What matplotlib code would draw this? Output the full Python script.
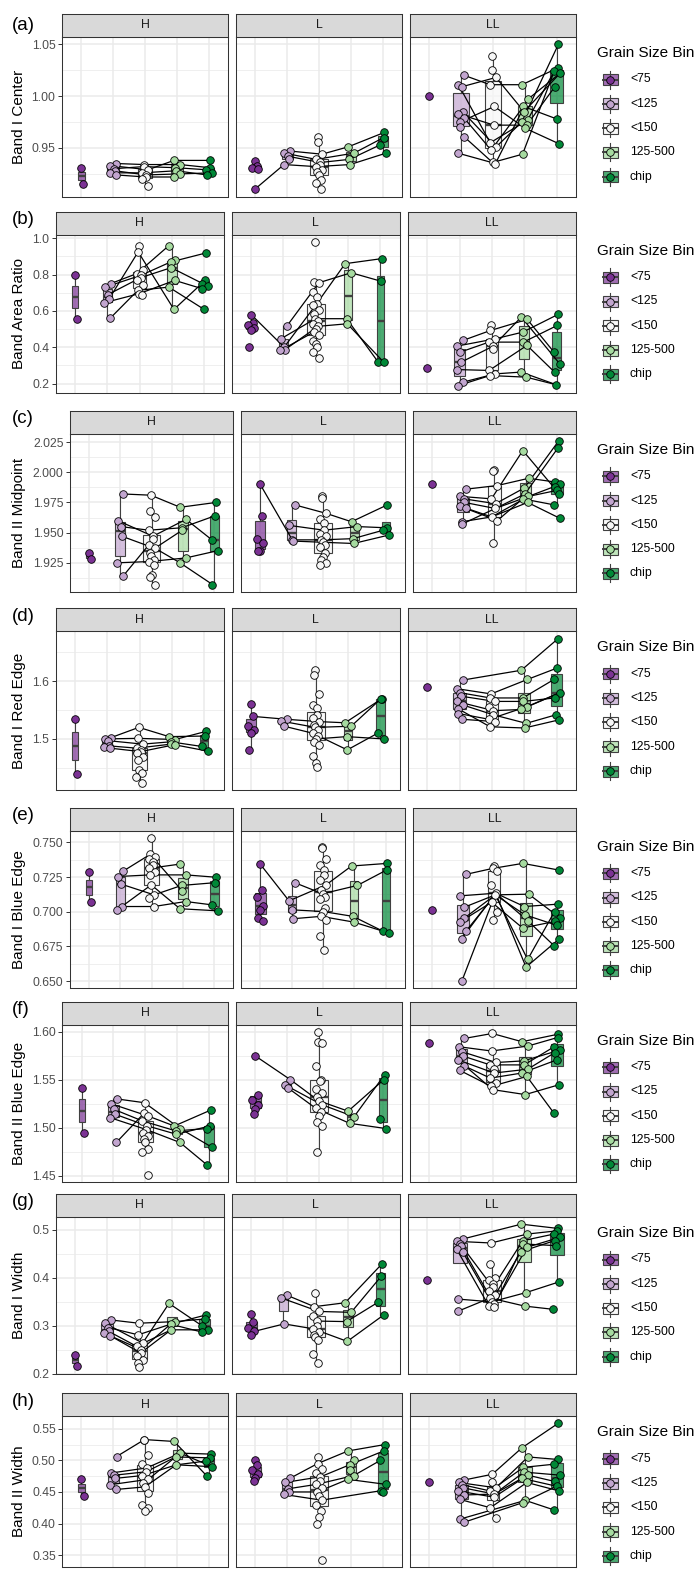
import numpy as np
import matplotlib
matplotlib.use("Agg")
import matplotlib.pyplot as plt
from matplotlib.colors import to_rgba
from matplotlib.patches import Rectangle
from matplotlib.ticker import FixedLocator

plt.rcParams["font.family"] = ["Liberation Sans", "DejaVu Sans"]

W, H = 700, 1570

BINS = ["<75", "<125", "<150", "125-500", "chip"]
FACETS = ["H", "L", "LL"]
FILLS = ["#7B3294", "#C2A5CF", "#F7F7F7", "#A6DBA0", "#008837"]

# per facet: (values in each grain size bin, samples as indices into those bins)
BAND_I_CENTER = {
    "H": ([[0.931, 0.915],
           [0.935, 0.933, 0.930, 0.928, 0.926, 0.924],
           [0.934, 0.932, 0.929, 0.926, 0.924, 0.922, 0.920, 0.913],
           [0.938, 0.934, 0.931, 0.928, 0.925, 0.922],
           [0.938, 0.931, 0.929, 0.926, 0.924]],
          [(None, 0, 0, 1, 1), (None, 1, 2, 0, 0), (None, 2, 1, 2, 2),
           (None, 3, 4, 4, 3), (None, 4, 3, 3, 4), (None, 5, 5, 5, None)]),
    "L": ([[0.937, 0.933, 0.931, 0.930, 0.910],
           [0.947, 0.945, 0.942, 0.939, 0.934],
           [0.961, 0.956, 0.944, 0.939, 0.936, 0.934, 0.932, 0.929, 0.927,
            0.924, 0.919, 0.916, 0.910],
           [0.951, 0.945, 0.939, 0.934],
           [0.965, 0.960, 0.953, 0.945]],
          [(4, 4, 6, 3, 3), (None, 0, 2, 0, 0), (None, 1, 3, 1, 1),
           (None, 2, 4, 2, 2)]),
    "LL": ([[1.000],
            [1.020, 1.011, 1.009, 0.985, 0.983, 0.979, 0.975, 0.970, 0.961, 0.945],
            [1.039, 1.025, 1.018, 1.011, 0.990, 0.972, 0.955, 0.951, 0.948,
             0.936, 0.935],
            [1.011, 0.997, 0.990, 0.985, 0.977, 0.975, 0.972, 0.969, 0.944],
            [1.050, 1.027, 1.024, 1.022, 1.009, 0.978, 0.954]],
           [(None, 0, 3, 0, 1), (None, 1, 6, 4, 2), (None, 2, 2, 3, 3),
            (None, 3, 7, 5, 0), (None, 4, 5, 6, 4), (None, 5, 8, 2, 5),
            (None, 6, 4, 7, 6), (None, 8, 9, 8, 2), (None, 9, 10, 1, 3)]),
}

BAND_AREA_RATIO = {
    "H": ([[0.80, 0.555],
           [0.75, 0.73, 0.69, 0.665, 0.645, 0.56],
           [0.96, 0.925, 0.823, 0.805, 0.796, 0.783, 0.768, 0.74, 0.713, 0.695, 0.69],
           [0.96, 0.882, 0.869, 0.838, 0.768, 0.731, 0.608],
           [0.919, 0.772, 0.75, 0.737, 0.722, 0.608]],
          [(None, 3, 1, 6, 2), (None, 0, 3, 0, None), (None, 1, 4, 2, 0),
           (None, 2, 5, 3, 3), (None, 4, 9, 4, 4), (None, 5, 8, 5, 5)]),
    "L": ([[0.58, 0.535, 0.52, 0.505, 0.495, 0.40],
           [0.515, 0.446, 0.40, 0.387, 0.382],
           [0.98, 0.759, 0.755, 0.704, 0.676, 0.64, 0.63, 0.603, 0.585, 0.557,
            0.542, 0.529, 0.515, 0.502, 0.483, 0.465, 0.432, 0.419, 0.40,
            0.373, 0.342],
           [0.86, 0.81, 0.557, 0.529],
           [0.888, 0.763, 0.321, 0.318]],
          [(0, 2, 5, 0, 0), (None, 0, 2, 1, 1), (None, 1, 9, 2, 2),
           (None, 3, 12, 3, 3), (None, 4, 14, None, None)]),
    "LL": ([[0.286],
            [0.437, 0.406, 0.373, 0.318, 0.277, 0.207, 0.189],
            [0.524, 0.492, 0.446, 0.428, 0.406, 0.391, 0.272, 0.253, 0.244],
            [0.566, 0.553, 0.483, 0.428, 0.41, 0.263, 0.235],
            [0.581, 0.52, 0.373, 0.308, 0.263, 0.193]],
           [(None, 0, 1, 1, 2), (None, 1, 2, 2, 0), (None, 2, 3, 3, 1),
            (None, 3, 4, 0, 3), (None, 4, 6, 4, 4), (None, 5, 7, 5, 5),
            (None, 6, 8, 6, 5)]),
}

BAND_II_MIDPOINT = {
    "H": ([[1.933, 1.928],
           [1.982, 1.960, 1.955, 1.947, 1.925, 1.914],
           [1.981, 1.968, 1.963, 1.952, 1.947, 1.945, 1.940, 1.937, 1.933,
            1.931, 1.927, 1.926, 1.923, 1.915, 1.913, 1.907],
           [1.971, 1.961, 1.954, 1.952, 1.929, 1.925],
           [1.975, 1.964, 1.944, 1.935, 1.907]],
          [(None, 0, 0, 0, 0), (None, 1, 4, 1, 2), (None, 2, 3, 2, 1),
           (None, 3, 7, 3, None), (None, 4, 11, 4, 3), (None, 5, 6, 5, 4)]),
    "L": ([[1.990, 1.964, 1.945, 1.941, 1.935, 1.935],
           [1.973, 1.956, 1.944, 1.943],
           [1.980, 1.979, 1.966, 1.961, 1.958, 1.952, 1.949, 1.947, 1.944,
            1.942, 1.940, 1.938, 1.933, 1.930, 1.927, 1.925, 1.923],
           [1.959, 1.955, 1.945, 1.941],
           [1.973, 1.954, 1.952, 1.948]],
          [(0, 2, 8, 2, 2), (None, 0, 2, 0, 0), (None, 1, 5, 1, 1),
           (None, 3, 9, 3, 3)]),
    "LL": ([[1.990],
            [1.986, 1.980, 1.978, 1.975, 1.972, 1.970, 1.959, 1.957],
            [2.002, 2.001, 1.989, 1.978, 1.974, 1.970, 1.963, 1.960, 1.941],
            [2.018, 1.995, 1.987, 1.982, 1.980, 1.978, 1.975],
            [2.026, 2.020, 1.992, 1.990, 1.988, 1.985, 1.982, 1.973, 1.962]],
           [(None, 0, 2, 1, 2), (None, 1, 3, 0, 6), (None, 2, 4, 2, 0),
            (None, 3, 5, 3, 1), (None, 4, 6, 4, 3), (None, 5, 7, 5, 7),
            (None, 6, 6, 6, 8), (None, 7, 5, 4, 5)]),
}

BAND_I_RED_EDGE = {
    "H": ([[1.535, 1.440],
           [1.502, 1.500, 1.497, 1.488, 1.486, 1.484],
           [1.520, 1.501, 1.491, 1.484, 1.481, 1.478, 1.475, 1.469, 1.463,
            1.446, 1.441, 1.434, 1.424],
           [1.504, 1.499, 1.495, 1.491, 1.490],
           [1.513, 1.505, 1.487, 1.479]],
          [(None, 0, 0, 0, 1), (None, 1, 1, 1, 0), (None, 2, 2, 2, 2),
           (None, 3, 3, 3, 3), (None, 5, 5, 4, None)]),
    "L": ([[1.560, 1.539, 1.522, 1.516, 1.510, 1.480],
           [1.534, 1.531, 1.522],
           [1.620, 1.610, 1.578, 1.559, 1.553, 1.542, 1.536, 1.530, 1.525,
            1.520, 1.515, 1.510, 1.505, 1.500, 1.495, 1.490, 1.470, 1.458, 1.452],
           [1.528, 1.522, 1.504, 1.481],
           [1.570, 1.570, 1.510, 1.500]],
          [(1, 0, 7, 0, 0), (None, 1, 9, 1, 1), (None, 2, 11, 3, 2),
           (None, None, 13, 2, 3)]),
    "LL": ([[1.590],
            [1.602, 1.587, 1.580, 1.574, 1.565, 1.559, 1.552, 1.544, 1.534],
            [1.578, 1.571, 1.565, 1.556, 1.549, 1.542, 1.534, 1.530, 1.521],
            [1.619, 1.603, 1.571, 1.565, 1.556, 1.551, 1.527, 1.519],
            [1.674, 1.623, 1.603, 1.580, 1.571, 1.542, 1.533]],
           [(None, 0, None, 0, 0), (None, 1, 0, 1, 1), (None, 2, 1, 2, 2),
            (None, 3, 2, 3, 4), (None, 4, 4, 5, 3), (None, 5, 5, 6, 5),
            (None, 6, 8, 7, 6), (None, 7, 6, 4, 3), (None, 8, 7, None, None)]),
}

BAND_I_BLUE_EDGE = {
    "H": ([[0.7285, 0.7067],
           [0.7294, 0.7254, 0.720, 0.7038, 0.7014],
           [0.7533, 0.7414, 0.7397, 0.738, 0.736, 0.7337, 0.7313, 0.7285,
            0.7266, 0.7194, 0.7122, 0.7098, 0.7038],
           [0.7344, 0.7266, 0.719, 0.715, 0.7074, 0.7022],
           [0.7249, 0.721, 0.705, 0.7007]],
          [(None, 0, 1, 3, None), (None, 1, 8, 1, 0), (None, 2, 10, 2, 1),
           (None, 3, 12, 4, 2), (None, 4, 9, 5, 3), (None, None, 6, 0, None)]),
    "L": ([[0.7344, 0.7158, 0.711, 0.7045, 0.7014, 0.6955, 0.693],
           [0.721, 0.7079, 0.7014, 0.695],
           [0.7469, 0.7457, 0.738, 0.7337, 0.7301, 0.7265, 0.7229, 0.7194,
            0.7158, 0.713, 0.711, 0.7092, 0.7026, 0.7002, 0.6967, 0.6943,
            0.6823, 0.6727],
           [0.733, 0.719, 0.6967, 0.6926],
           [0.7349, 0.7301, 0.6859, 0.6847]],
          [(0, 1, 7, 0, 0), (None, 0, 9, 1, 1), (None, 2, 13, 2, 2),
           (None, 3, 14, 3, 3)]),
    "LL": ([[0.7014],
            [0.727, 0.7115, 0.7031, 0.6955, 0.6926, 0.6859, 0.6806, 0.650],
            [0.7333, 0.7313, 0.7294, 0.7194, 0.7134, 0.7122, 0.7069, 0.6995, 0.6943],
            [0.7349, 0.7127, 0.7038, 0.6978, 0.6931, 0.6883, 0.6656, 0.6601],
            [0.7301, 0.7055, 0.7002, 0.6955, 0.6931, 0.6902, 0.6806, 0.6756]],
           [(None, 0, 1, 0, 0), (None, 1, 4, 2, 1), (None, 2, 5, 6, 2),
            (None, 3, 5, 1, 3), (None, 5, 5, 3, 5), (None, 6, 4, 4, 7),
            (None, 7, 4, 7, 6), (None, 4, 6, 5, 4)]),
}

BAND_II_BLUE_EDGE = {
    "H": ([[1.5414, 1.4941],
           [1.530, 1.525, 1.519, 1.514, 1.5103, 1.4845],
           [1.526, 1.5148, 1.512, 1.507, 1.502, 1.498, 1.4948, 1.4914, 1.488,
            1.4845, 1.4776, 1.4748, 1.4507],
           [1.5017, 1.499, 1.4966, 1.4931, 1.4845],
           [1.5183, 1.5017, 1.499, 1.4793, 1.461]],
          [(None, 0, 0, 1, 3), (None, 1, 2, 0, 0), (None, 2, 3, 2, 2),
           (None, 3, 4, 3, 1), (None, 4, 5, 4, 4), (None, 5, 1, None, None)]),
    "L": ([[1.5748, 1.5345, 1.5293, 1.5241, 1.519, 1.5138],
           [1.550, 1.5448, 1.5414],
           [1.600, 1.5897, 1.588, 1.5645, 1.550, 1.549, 1.540, 1.536, 1.532,
            1.528, 1.524, 1.520, 1.516, 1.512, 1.506, 1.502, 1.4748],
           [1.5172, 1.5114, 1.5045],
           [1.5552, 1.550, 1.5086, 1.499]],
          [(0, 0, 9, 0, 1), (None, 1, 10, 1, 0), (None, 2, 11, 2, 3)]),
    "LL": ([[1.5879],
            [1.5931, 1.5845, 1.5793, 1.5748, 1.5707, 1.5645, 1.5597],
            [1.5983, 1.580, 1.568, 1.5655, 1.561, 1.557, 1.5517, 1.5466,
             1.5431, 1.5397],
            [1.5897, 1.5852, 1.5697, 1.5655, 1.561, 1.557, 1.5534, 1.5345],
            [1.5976, 1.5941, 1.5845, 1.581, 1.5783, 1.5707, 1.5448, 1.5155]],
           [(None, 0, 0, 0, 0), (None, 1, 1, 1, 1), (None, 2, 2, 2, 3),
            (None, 3, 3, 3, 2), (None, 4, 5, 4, 4), (None, 5, 6, 5, 5),
            (None, 6, 8, 6, 7), (None, 4, 9, 7, 6)]),
}

BAND_I_WIDTH = {
    "H": ([[0.240, 0.216],
           [0.3124, 0.3055, 0.2966, 0.2883, 0.285, 0.2794],
           [0.3055, 0.2814, 0.2643, 0.2574, 0.2505, 0.2436, 0.2368, 0.2299,
            0.223, 0.2141],
           [0.3467, 0.3089, 0.3034, 0.2918],
           [0.3227, 0.3144, 0.3007, 0.2918, 0.287]],
          [(None, 0, 0, 1, 1), (None, 1, 2, 0, 2), (None, 2, 1, 2, 0),
           (None, 3, 3, 3, 3), (None, 4, 4, 2, 4), (None, 5, 5, 3, None)]),
    "L": ([[0.324, 0.309, 0.2966, 0.2883, 0.2814],
           [0.364, 0.3584, 0.3041],
           [0.3694, 0.340, 0.330, 0.320, 0.310, 0.300, 0.294, 0.288, 0.282,
            0.276, 0.270, 0.2405, 0.223],
           [0.3481, 0.3282, 0.3089, 0.2677],
           [0.4292, 0.4031, 0.3488, 0.3227]],
          [(3, 2, 6, 3, 3), (None, 0, 1, 0, 0), (None, 1, 2, 1, 1),
           (None, None, 4, 2, 2)]),
    "LL": ([[0.3962],
            [0.4808, 0.4759, 0.4704, 0.4656, 0.4601, 0.4546, 0.3557, 0.3309],
            [0.4725, 0.4292, 0.400, 0.395, 0.388, 0.380, 0.372, 0.365, 0.358,
             0.350, 0.345, 0.342, 0.3399],
            [0.5117, 0.4911, 0.4773, 0.4704, 0.4636, 0.4546, 0.3694, 0.3412],
            [0.5027, 0.4979, 0.4911, 0.4842, 0.4773, 0.467, 0.3914, 0.3344]],
           [(None, 0, None, 0, 0), (None, 1, 0, 1, 1), (None, 2, 5, 2, 2),
            (None, 3, 10, 4, 3), (None, 4, 11, 5, 4), (None, 5, 12, 3, 5),
            (None, 6, 9, 6, 6), (None, 7, 8, 7, 7)]),
}

BAND_II_WIDTH = {
    "H": ([[0.470, 0.443],
           [0.506, 0.480, 0.4765, 0.4715, 0.4615, 0.454],
           [0.533, 0.532, 0.508, 0.495, 0.488, 0.482, 0.476, 0.470, 0.464,
            0.458, 0.449, 0.430, 0.425, 0.420],
           [0.530, 0.5115, 0.5055, 0.493],
           [0.510, 0.504, 0.499, 0.490, 0.475]],
          [(None, 0, 0, 0, 4), (None, 1, 4, 1, 0), (None, 2, 5, 2, 1),
           (None, 3, 6, 3, 2), (None, 4, 7, 1, 3), (None, 5, 9, 3, 3)]),
    "L": ([[0.500, 0.492, 0.485, 0.478, 0.472, 0.468],
           [0.472, 0.465, 0.455, 0.450, 0.446],
           [0.505, 0.495, 0.487, 0.480, 0.474, 0.468, 0.462, 0.456, 0.450,
            0.444, 0.437, 0.430, 0.420, 0.410, 0.400, 0.342],
           [0.515, 0.500, 0.493, 0.485, 0.476, 0.470],
           [0.525, 0.515, 0.500, 0.462, 0.452, 0.450]],
          [(None, 0, 1, 0, 0), (None, 1, 4, 2, 1), (None, 2, 6, 4, 2),
           (None, 3, 8, 5, 3), (None, 4, 10, None, 4)]),
    "LL": ([[0.4656],
            [0.469, 0.465, 0.4617, 0.4566, 0.4516, 0.4452, 0.4382, 0.407, 0.402],
            [0.478, 0.465, 0.4566, 0.4516, 0.4467, 0.4417, 0.425, 0.409],
            [0.520, 0.5055, 0.489, 0.4815, 0.4766, 0.4716, 0.465, 0.4367, 0.433],
            [0.559, 0.5015, 0.494, 0.4766, 0.4666, 0.459, 0.4516, 0.4217]],
           [(None, 0, 0, 0, 0), (None, 1, 2, 1, 1), (None, 2, 3, 2, 2),
            (None, 3, 4, 3, 3), (None, 4, 5, 4, 4), (None, 5, 4, 5, 5),
            (None, 6, 6, 6, 6), (None, 7, None, 7, 7), (None, 8, None, 8, 5)]),
}

MEASURES = [BAND_I_CENTER, BAND_AREA_RATIO, BAND_II_MIDPOINT, BAND_I_RED_EDGE,
            BAND_I_BLUE_EDGE, BAND_II_BLUE_EDGE, BAND_I_WIDTH, BAND_II_WIDTH]
ROW_TAGS = ["(a)", "(b)", "(c)", "(d)", "(e)", "(f)", "(g)", "(h)"]
Y_TITLES = ["Band I Center", "Band Area Ratio", "Band II Midpoint",
            "Band I Red Edge", "Band I Blue Edge", "Band II Blue Edge",
            "Band I Width", "Band II Width"]
Y_TICKS = [[0.95, 1.00, 1.05],
           [0.2, 0.4, 0.6, 0.8, 1.0],
           [1.925, 1.950, 1.975, 2.000, 2.025],
           [1.5, 1.6],
           [0.650, 0.675, 0.700, 0.725, 0.750],
           [1.45, 1.50, 1.55, 1.60],
           [0.2, 0.3, 0.4, 0.5],
           [0.35, 0.40, 0.45, 0.50, 0.55]]
Y_FMT = ["%.2f", "%.1f", "%.3f", "%.1f", "%.3f", "%.2f", "%.1f", "%.2f"]

# row geometry in pixels (strip top, panel bottom, panel left)
STRIP_TOP = [14, 211.7, 410.7, 608.3, 807.7, 1001.7, 1194, 1393.3]
PANEL_BOTTOM = [196.7, 392.7, 591.7, 790, 988.3, 1182, 1374.3, 1567]
PANEL_LEFT = [62, 55.6, 70, 55.6, 70, 62.4, 55.6, 62.3]
PANEL_RIGHT = 576
PANEL_GAP = 8
STRIP_H = 23

EDGE = "#333333"
BOX_EDGE = "#404040"
GRID = "#EBEBEB"
ALPHA = 0.7
BOX_WIDTH = 0.55


def px_rect(x0, y0, x1, y1):
    return [x0 / W, 1 - y1 / H, (x1 - x0) / W, (y1 - y0) / H]


def jitter(b, j):
    return 0.10 * np.sin(2.39996 * j + 1.7 * b)


def draw_facet(ax, bins, links, ylim, nmax, ticks, fmt, first):
    ax.set_xlim(0.4, 5.6)
    ax.set_ylim(*ylim)

    step = ticks[1] - ticks[0]
    minor = [t + s * step / 2 for t in ticks for s in (-1, 1)]
    minor = sorted({round(m, 6) for m in minor if ylim[0] < m < ylim[1]} - {round(t, 6) for t in ticks})
    ax.set_yticks(ticks)
    ax.yaxis.set_minor_locator(FixedLocator(minor))
    ax.set_xticks(range(1, 6))
    ax.grid(which="major", color=GRID, linewidth=1.1, zorder=0)
    ax.grid(which="minor", axis="y", color=GRID, linewidth=0.55, zorder=0)
    ax.set_axisbelow(True)

    # box width grows with the number of points in the bin
    for b, vals in enumerate(bins):
        w = BOX_WIDTH * np.sqrt(len(vals) / nmax)
        ax.boxplot([vals], positions=[b + 1], widths=w, patch_artist=True,
                   showfliers=False, showcaps=False, manage_ticks=False,
                   boxprops=dict(facecolor=to_rgba(FILLS[b], ALPHA),
                                 edgecolor=BOX_EDGE, linewidth=0.8),
                   medianprops=dict(color=BOX_EDGE, linewidth=1.7),
                   whiskerprops=dict(color=BOX_EDGE, linewidth=0.8),
                   zorder=2)

    for sample in links:
        xs, ys = [], []
        for b, idx in enumerate(sample):
            if idx is None:
                continue
            xs.append(b + 1 + jitter(b, idx))
            ys.append(bins[b][idx])
        ax.plot(xs, ys, color="black", linewidth=0.9, zorder=3)

    for b, vals in enumerate(bins):
        xs = [b + 1 + jitter(b, j) for j in range(len(vals))]
        ax.scatter(xs, vals, s=30, facecolor=FILLS[b], edgecolor="black",
                   linewidth=0.6, zorder=4)

    ax.tick_params(axis="x", length=0, labelbottom=False)
    ax.tick_params(axis="y", which="minor", length=0)
    if first:
        ax.set_yticklabels([fmt % t for t in ticks])
        ax.tick_params(axis="y", which="major", labelsize=8.8,
                       labelcolor="#4D4D4D", color=EDGE, length=2.7,
                       width=0.7, pad=2)
    else:
        ax.tick_params(axis="y", which="major", length=0, labelleft=False)
    for sp in ax.spines.values():
        sp.set_color(EDGE)
        sp.set_linewidth(0.75)
        sp.set_zorder(10)


fig = plt.figure(figsize=(W / 100, H / 100), dpi=100)
ov = fig.add_axes([0, 0, 1, 1])
ov.set_xlim(0, W)
ov.set_ylim(H, 0)
ov.axis("off")

for r, measure in enumerate(MEASURES):
    top = STRIP_TOP[r]
    strip_bot = top + STRIP_H
    bottom = PANEL_BOTTOM[r]
    left = PANEL_LEFT[r]
    pw = (PANEL_RIGHT - left - 2 * PANEL_GAP) / 3

    all_vals = [v for f in FACETS for vals in measure[f][0] for v in vals]
    lo, hi = min(all_vals), max(all_vals)
    pad = 0.05 * (hi - lo)
    ylim = (lo - pad, hi + pad)
    nmax = max(len(vals) for f in FACETS for vals in measure[f][0])

    for k, facet in enumerate(FACETS):
        bins, links = measure[facet]
        x0 = left + k * (pw + PANEL_GAP)
        ax = fig.add_axes(px_rect(x0, strip_bot, x0 + pw, bottom))
        draw_facet(ax, bins, links, ylim, nmax, Y_TICKS[r], Y_FMT[r], k == 0)

        sax = fig.add_axes(px_rect(x0, top, x0 + pw, strip_bot))
        sax.set_facecolor("#D9D9D9")
        sax.set_xticks([])
        sax.set_yticks([])
        for sp in sax.spines.values():
            sp.set_color(EDGE)
            sp.set_linewidth(0.75)
        sax.text(0.5, 0.5, facet, ha="center", va="center", fontsize=8.8,
                 color="#1A1A1A", transform=sax.transAxes)

    # row tag and y axis title
    ov.text(12, max(top + 8, 26), ROW_TAGS[r], fontsize=13.5, ha="left", va="center")
    ov.text(19, (strip_bot + bottom) / 2, Y_TITLES[r], fontsize=11,
            rotation=90, ha="center", va="center")

    # legend
    ov.text(597, top + 39, "Grain Size Bin", fontsize=11, ha="left", va="center")
    for b, name in enumerate(BINS):
        cy = top + 65.5 + 24.3 * b
        ov.plot([610, 610], [cy - 9, cy + 9], color=BOX_EDGE, linewidth=0.8)
        ov.add_patch(Rectangle((602.5, cy - 5.5), 15, 11,
                               facecolor=to_rgba(FILLS[b], ALPHA),
                               edgecolor=BOX_EDGE, linewidth=0.8))
        ov.plot([602.5, 617.5], [cy, cy], color=BOX_EDGE, linewidth=1.4)
        ov.scatter([610], [cy], s=30, facecolor=FILLS[b], edgecolor="black",
                   linewidth=0.6, zorder=5)
        ov.text(630, cy, name, fontsize=8.8, ha="left", va="center")

fig.savefig("out.png", dpi=100)
